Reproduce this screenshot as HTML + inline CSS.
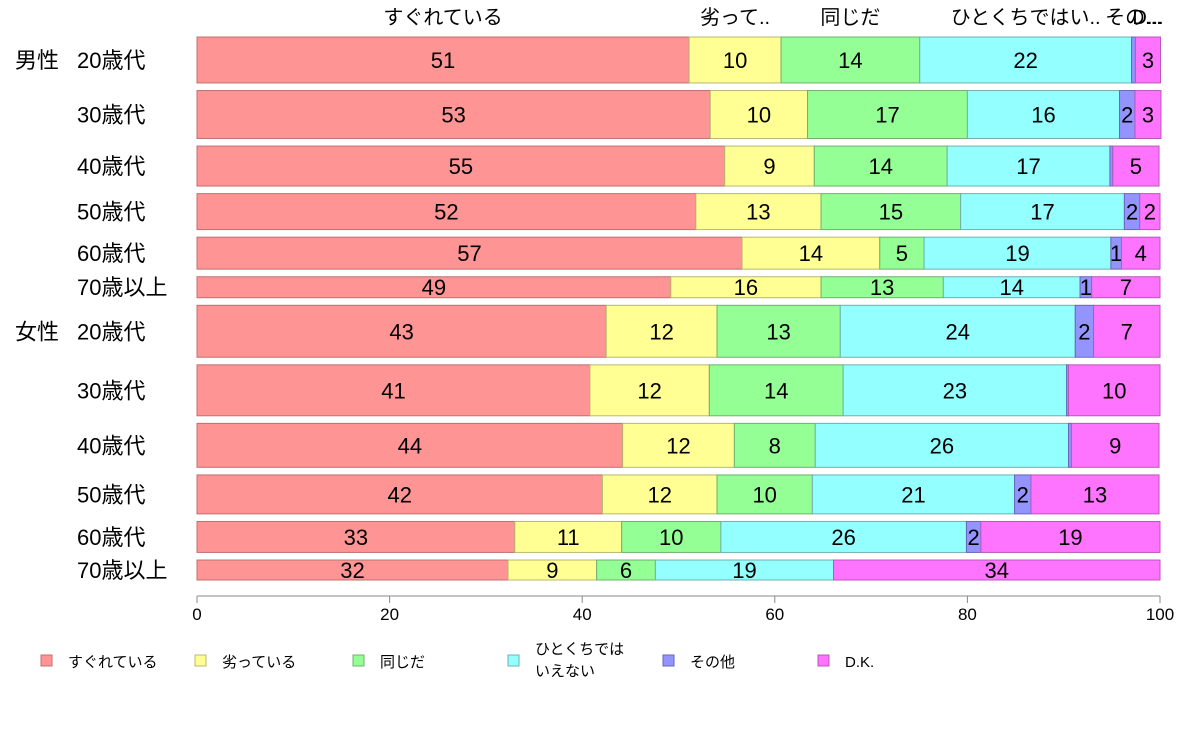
<!DOCTYPE html>
<html><head><meta charset="utf-8"><style>
body{margin:0;background:#fff;}
svg text{font-family:"Liberation Sans","Noto Sans CJK JP",sans-serif;}
</style></head><body>
<svg id="chart" width="1188" height="736" xmlns="http://www.w3.org/2000/svg"></svg>
<script>
const categories=["男性 20歳代","30歳代","40歳代","50歳代","60歳代","70歳以上","女性 20歳代","30歳代","40歳代","50歳代","60歳代","70歳以上"];
const seriesNames=["すぐれている","劣っている","同じだ","ひとくちではいえない","その他","D.K."];
const topLabels=["すぐれている","劣って..","同じだ","ひとくちではい..","その...","D..."];
const rowWeights=[46,48,40,36,32,21,52,51,44,39,31,20];
const sSugureteiru=[51.1,53.3,54.8,51.8,56.6,49.2,42.5,40.8,44.2,42.1,33.0,32.3];
const sOtoru=[9.55,10.1,9.3,13.0,14.3,15.6,11.5,12.4,11.6,11.9,11.1,9.2];
const sOnaji=[14.4,16.6,13.8,14.5,4.6,12.7,12.8,13.9,8.4,9.9,10.3,6.1];
const sHitokuchi=[22.0,15.8,16.9,17.0,19.4,14.2,24.4,23.2,26.3,21.0,25.5,18.5];
const sSonota=[0.4,1.6,0.3,1.6,1.1,1.2,1.9,0.2,0.3,1.7,1.5,0];
const sDK=[2.6,2.7,4.8,2.1,4.0,7.1,6.9,9.5,9.1,13.3,18.6,33.9];
const xTicks=[0,20,40,60,80,100];

const series=[sSugureteiru,sOtoru,sOnaji,sHitokuchi,sSonota,sDK];
const colors=["#FF9494","#FFFF94","#94FF94","#94FFFF","#9494FF","#FF74FF"];
const strokes=["#c07070","#b8b870","#70b070","#70b0b0","#6666bb","#bb55bb"];
const svg=document.getElementById('chart');
const NS="http://www.w3.org/2000/svg";
const X0=197,X1=1160,Y0=37,Y1=580,GAP=7.6;
const x=v=>X0+(X1-X0)*v/100;
function mk(tag,attrs,parent){const e=document.createElementNS(NS,tag);for(const k in attrs)e.setAttribute(k,attrs[k]);(parent||svg).appendChild(e);return e;}
const totalW=rowWeights.reduce((a,b)=>a+b,0);
const scaleH=(Y1-Y0-GAP*(rowWeights.length-1))/totalW;
let yc=Y0;
const rowPos=[];
rowWeights.forEach(w=>{const h=w*scaleH;rowPos.push([yc,h]);yc+=h+GAP;});
categories.forEach((cat,i)=>{
  const [ry,rh]=rowPos[i];
  const g=mk('g',{});
  
  
  let cum=0;
  series.forEach((s,j)=>{
    const v=s[i];
    const r=mk('rect',{x:x(cum),y:ry,width:Math.max(0,x(cum+v)-x(cum)),height:rh,fill:colors[j],stroke:strokes[j],'stroke-width':1},g);
    
    
    if(v>=0.5){
      const t=mk('text',{x:(x(cum)+x(cum+v))/2,y:ry+rh/2+8,'text-anchor':'middle','font-size':22,fill:'#000'},g);
      
      
      t.textContent=Math.round(v);
    }
    if(i===0){
      const tl=mk('text',{x:(x(cum)+x(cum+v))/2,y:24,'text-anchor':'middle','font-size':20,fill:'#000'});
      
      
      tl.textContent=topLabels[j];
    }
    cum+=v;
  });
  const parts=cat.split(' ');
  const lab=mk('text',{x:77,y:ry+rh/2+8,'font-size':22,fill:'#000'});
  
  
  lab.textContent=parts[parts.length-1];
  if(parts.length>1){
    const gl=mk('text',{x:15,y:ry+rh/2+8,'font-size':22,fill:'#000'});
    
    
    gl.textContent=parts[0];
  }
});
const ax=mk('line',{x1:X0,x2:X1,y1:596,y2:596,stroke:'#888','stroke-width':1});


xTicks.forEach(t=>{
  const tk=mk('line',{x1:x(t),x2:x(t),y1:596,y2:603,stroke:'#888'});
  
  
  const tt=mk('text',{x:x(t),y:620,'text-anchor':'middle','font-size':17,fill:'#000'});
  
  
  tt.textContent=t;
});
const legX=[41,195,353,508,663,818];
seriesNames.forEach((n,j)=>{
  const g=mk('g',{});
  
  
  mk('rect',{x:legX[j],y:655,width:11,height:11,fill:colors[j],stroke:strokes[j]},g);
  if(j===3){
    const a=mk('text',{x:legX[j]+27,y:654,'font-size':15},g);a.textContent='ひとくちでは';
    const b=mk('text',{x:legX[j]+27,y:676,'font-size':15},g);b.textContent='いえない';
  } else {
    const t=mk('text',{x:legX[j]+27,y:667,'font-size':15},g);t.textContent=n;
  }
});
</script>
</body></html>
